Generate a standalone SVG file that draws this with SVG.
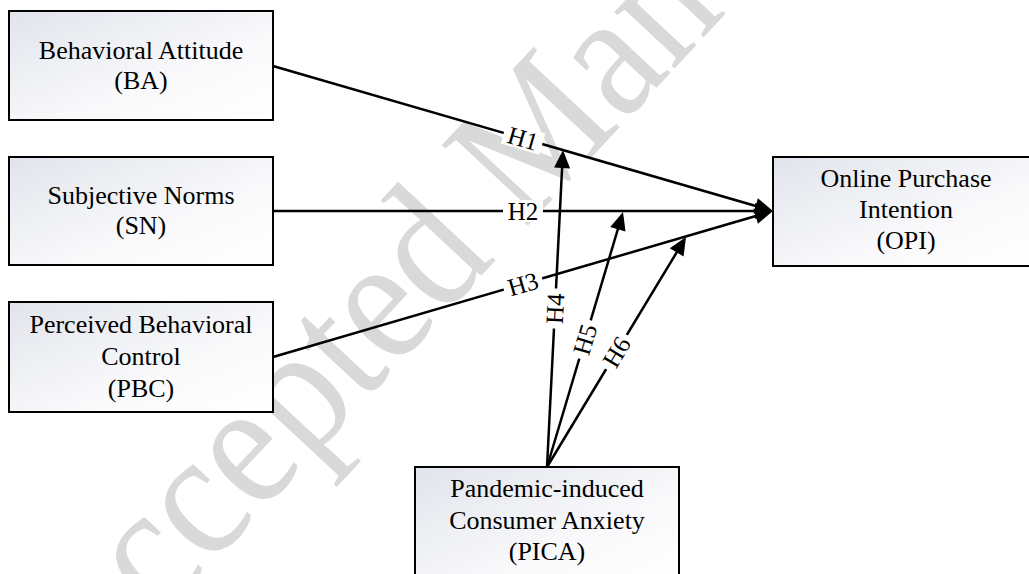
<svg xmlns="http://www.w3.org/2000/svg" width="1029" height="574" viewBox="0 0 1029 574">
  <defs>
    <linearGradient id="boxFill" x1="0" y1="0" x2="1" y2="1">
      <stop offset="0" stop-color="#e1e4eb"/>
      <stop offset="0.6" stop-color="#f9f9fb"/>
      <stop offset="1" stop-color="#ffffff"/>
    </linearGradient>
    <marker id="arrow" markerUnits="userSpaceOnUse" markerWidth="18" markerHeight="16" refX="12" refY="8" orient="auto" overflow="visible">
      <path d="M0,0 L18,8 L0,16 Z" fill="#000"/>
    </marker>
  </defs>
  <style>
    .box { fill: url(#boxFill); stroke: #000; stroke-width: 2; }
    .lbl { font-family: "Liberation Serif", "Times New Roman", serif; font-size: 26px; fill: #000; text-anchor: middle; }
    .hl { font-family: "Liberation Serif", "Times New Roman", serif; font-size: 25px; fill: #000; text-anchor: middle; }
    .conn { stroke: #000; stroke-width: 2.5; fill: none; marker-end: url(#arrow); }
    .bg { fill: #fff; }
    .wm { font-family: "Liberation Serif", "Times New Roman", serif; font-size: 180px; fill: #d9d9d9; }
  </style>
  <rect width="1029" height="574" fill="#fff"/>
  <text class="wm" transform="translate(80,706) rotate(-47) scale(0.9,1)">Accepted Manuscript</text>

  <g id="connectors">
    <line class="conn" x1="273" y1="66" x2="767.2" y2="209.3"/>
    <line class="conn" x1="273" y1="211" x2="767" y2="211"/>
    <line class="conn" x1="273" y1="357" x2="767.2" y2="212.7"/>
    <line class="conn" x1="547" y1="467" x2="562.7" y2="156"/>
    <line class="conn" x1="547" y1="467" x2="621.3" y2="217.7"/>
    <line class="conn" x1="547" y1="467" x2="682.9" y2="242.1"/>
    <g transform="translate(523,138.5) rotate(16.17)"><rect class="bg" x="-20" y="-11" width="40" height="22"/><text class="hl" x="0" y="8.5">H1</text></g>
    <g transform="translate(523,211)"><rect class="bg" x="-20" y="-11" width="40" height="22"/><text class="hl" x="0" y="8.5">H2</text></g>
    <g transform="translate(523,284) rotate(-16.3)"><rect class="bg" x="-20" y="-11" width="40" height="22"/><text class="hl" x="0" y="8.5">H3</text></g>
    <g transform="translate(555,308.5) rotate(-87.1)"><rect class="bg" x="-20" y="-11" width="40" height="22"/><text class="hl" x="0" y="8.5">H4</text></g>
    <g transform="translate(585,339.5) rotate(-73.4)"><rect class="bg" x="-20" y="-11" width="40" height="22"/><text class="hl" x="0" y="8.5">H5</text></g>
    <g transform="translate(616.5,352) rotate(-58.9)"><rect class="bg" x="-20" y="-11" width="40" height="22"/><text class="hl" x="0" y="8.5">H6</text></g>
  </g>

  <g id="node-BA">
    <rect class="box" x="9" y="11" width="264" height="109"/>
    <text class="lbl" x="141" y="59">Behavioral Attitude</text>
    <text class="lbl" x="141" y="89">(BA)</text>
  </g>
  <g id="node-SN">
    <rect class="box" x="9" y="157" width="264" height="108"/>
    <text class="lbl" x="141" y="204">Subjective Norms</text>
    <text class="lbl" x="141" y="234">(SN)</text>
  </g>
  <g id="node-PBC">
    <rect class="box" x="9" y="302" width="264" height="110"/>
    <text class="lbl" x="141" y="333">Perceived Behavioral</text>
    <text class="lbl" x="141" y="365">Control</text>
    <text class="lbl" x="141" y="397">(PBC)</text>
  </g>
  <g id="node-OPI">
    <rect class="box" x="773" y="157" width="266" height="109"/>
    <text class="lbl" x="906" y="187">Online Purchase</text>
    <text class="lbl" x="906" y="218">Intention</text>
    <text class="lbl" x="906" y="249">(OPI)</text>
  </g>
  <g id="node-PICA">
    <rect class="box" x="415" y="467" width="264" height="120"/>
    <text class="lbl" x="547" y="497">Pandemic-induced</text>
    <text class="lbl" x="547" y="529">Consumer Anxiety</text>
    <text class="lbl" x="547" y="560">(PICA)</text>
  </g>
</svg>
